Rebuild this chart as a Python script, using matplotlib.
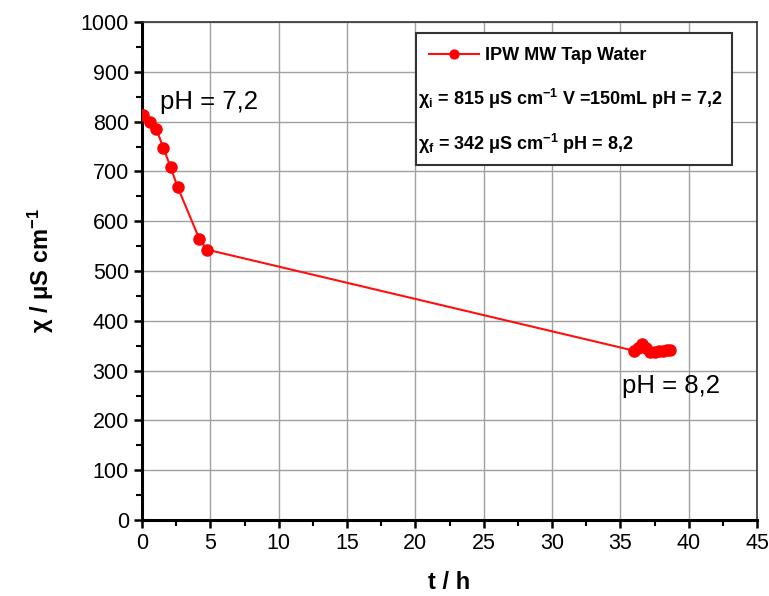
import matplotlib.pyplot as plt
from matplotlib.patches import Rectangle

plt.rcParams['font.family'] = ['Liberation Sans', 'DejaVu Sans']
plt.rcParams['mathtext.fontset'] = 'custom'
plt.rcParams['mathtext.rm'] = 'Liberation Sans'
plt.rcParams['mathtext.it'] = 'Liberation Sans:italic'
plt.rcParams['mathtext.bf'] = 'Liberation Sans:bold'

# time (h) and conductivity (uS/cm)
t = [0.1, 0.6, 1.05, 1.55, 2.1, 2.6, 4.2, 4.75,
     36.0, 36.3, 36.6, 36.9, 37.2, 37.5, 37.8, 38.1, 38.4, 38.6]
chi = [813, 800, 785, 748, 708, 669, 564, 543,
       340, 346, 353, 345, 338, 337, 339, 340, 341, 342]

series_label = "IPW MW Tap Water"
info_lines = [r"$\mathbf{\chi_i}$ = 815 $\mathbf{\mu}$S cm$^{\mathbf{-1}}$ V =150mL pH = 7,2",
              r"$\mathbf{\chi_f}$ = 342 $\mathbf{\mu}$S cm$^{\mathbf{-1}}$ pH = 8,2"]

fig = plt.figure(figsize=(7.69, 5.96), dpi=100)
ax = fig.add_axes([0.1847, 0.1275, 0.7997, 0.8355])

line, = ax.plot(t, chi, color="#ff1010", linewidth=1.5, marker="o",
                markersize=8, markerfacecolor="#ff0000", markeredgecolor="#ff0000",
                label=series_label, zorder=3)

ax.set_xlim(0, 45)
ax.set_ylim(0, 1000)
ax.set_xticks(range(0, 46, 5))
ax.set_yticks(range(0, 1001, 100))
ax.set_xticks([x + 2.5 for x in range(0, 45, 5)], minor=True)
ax.set_yticks([y + 50 for y in range(0, 1000, 100)], minor=True)
ax.grid(True, which="major", color="#a0a0a0", linewidth=1.0)
ax.tick_params(which="major", direction="out", length=6, width=1.8, labelsize=15.5)
ax.tick_params(which="minor", direction="out", length=4, width=1.5)
for side in ["left", "bottom"]:
    ax.spines[side].set_linewidth(2.2)
for side in ["top", "right"]:
    ax.spines[side].set_linewidth(1.2)
    ax.spines[side].set_color("#333333")

ax.set_xlabel("t / h", fontsize=17, fontweight="bold", labelpad=12)
ax.set_ylabel(r"$\mathbf{\chi}$ / $\mathbf{\mu}$S cm$^{\mathbf{-1}}$", fontsize=17,
              fontweight="bold", labelpad=18)

ax.text(1.3, 815, "pH = 7,2", fontsize=18.5, va="bottom", ha="left")
ax.text(35.1, 245, "pH = 8,2", fontsize=18.5, va="bottom", ha="left")

# legend box
ax.add_patch(Rectangle((0.4455, 0.713), 0.5135, 0.265, transform=ax.transAxes,
                       facecolor="white", edgecolor="#333333", linewidth=1.5, zorder=4))
leg = ax.legend(handles=[line], loc="upper left", bbox_to_anchor=(0.44, 0.982),
                frameon=False, fontsize=13, handlelength=2.8, handletextpad=0.3,
                markerscale=0.8)
leg.set_zorder(5)
for txt in leg.get_texts():
    txt.set_fontweight("bold")
ax.text(0.449, 0.846, info_lines[0], transform=ax.transAxes, fontsize=13,
        fontweight="bold", va="center", ha="left", zorder=6)
ax.text(0.449, 0.756, info_lines[1], transform=ax.transAxes, fontsize=13,
        fontweight="bold", va="center", ha="left", zorder=6)

fig.savefig("out.png", dpi=100)
